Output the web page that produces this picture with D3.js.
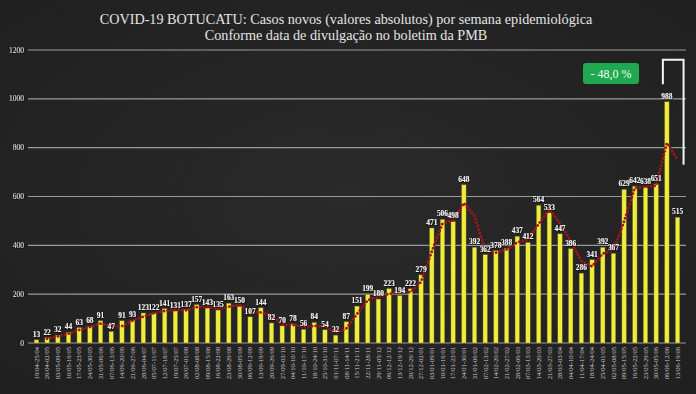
<!DOCTYPE html>
<html>
<head>
<meta charset="utf-8">
<script src="https://cdn.jsdelivr.net/npm/d3@7"></script>
<style>
  html, body { margin: 0; padding: 0; background: #262626; }
  svg { display: block; }
</style>
</head>
<body>
<div id="chart"></div>
<script>
// weekly periods (epidemiological weeks, 2020-2021)
let weeks = [
  "19/04-25/04", "26/04-02/05", "03/05-09/05", "10/05-16/05", "17/05-23/05",
  "24/05-30/05", "31/05-06/06", "07/06-13/06", "14/06-20/06", "21/06-27/06",
  "28/06-04/07", "05/07-11/07", "12/07-18/07", "19/07-25/07", "26/07-01/08",
  "02/08-08/08", "09/08-15/08", "16/08-22/08", "23/08-29/08", "30/08-05/09",
  "06/09-12/09", "13/09-19/09", "20/09-26/09", "27/09-03/10", "04/10-10/10",
  "11/10-17/10", "18/10-24/10", "25/10-31/10", "01/11-07/11", "08/11-14/11",
  "15/11-21/11", "22/11-28/11", "29/11-05/12", "06/12-12/12", "13/12-19/12",
  "20/12-26/12", "27/12-02/01", "03/01-09/01", "10/01-16/01", "17/01-23/01",
  "24/01-30/01", "31/01-06/02", "07/02-13/02", "14/02-20/02", "21/02-27/02",
  "28/02-06/03", "07/03-13/03", "14/03-20/03", "21/03-27/03", "28/03-03/04",
  "04/04-10/04", "11/04-17/04", "18/04-24/04", "25/04-01/05", "02/05-08/05",
  "09/05-15/05", "16/05-22/05", "23/05-29/05", "30/05-05/06", "06/06-12/06",
  "13/06-19/06"
]

// new cases per week
let cases = [
  13, 22, 32, 44, 63, 68, 91, 47, 91, 93,
  123, 122, 141, 131, 137, 157, 143, 135, 163, 150,
  107, 144, 82, 70, 78, 56, 84, 54, 32, 87,
  151, 199, 180, 223, 194, 222, 279, 471, 506, 498,
  648, 392, 362, 378, 388, 437, 412, 564, 533, 447,
  386, 286, 341, 392, 367, 629, 642, 638, 651, 988,
  515
]

let yTicks = [0, 200, 400, 600, 800, 1000, 1200]
let titleLines = [
  "COVID-19 BOTUCATU: Casos novos (valores absolutos) por semana epidemiológica",
  "Conforme data de divulgação no boletim da PMB"
]
let changeLabel = "- 48,0 %"

let W = 696, H = 394
let margin = { top: 50, right: 10, bottom: 51, left: 28 }

let svg = d3.select("#chart")
  .append("svg")
  .attr("width", W)
  .attr("height", H)

// background with a soft vignette
let defs = svg.append("defs")
let grad = defs.append("radialGradient").attr("id", "bg")
  .attr("cx", "50%").attr("cy", "50%").attr("r", "75%")
grad.append("stop").attr("offset", "0%").attr("stop-color", "#2a2a2b")
grad.append("stop").attr("offset", "100%").attr("stop-color", "#1f1f20")
svg.append("rect").attr("width", W).attr("height", H).attr("fill", "url(#bg)")

let shadow = defs.append("filter").attr("id", "shadow")
  .attr("x", "-20%").attr("y", "-20%").attr("width", "140%").attr("height", "140%")
shadow.append("feDropShadow")
  .attr("dx", 0.6).attr("dy", 0.6).attr("stdDeviation", 0.4)
  .attr("flood-color", "#000").attr("flood-opacity", 0.9)

// title
svg.append("g")
  .selectAll("text")
  .data(titleLines)
  .enter()
  .append("text")
  .attr("x", 346)
  .attr("y", function (d, i) { return 24 + i * 16 })
  .attr("text-anchor", "middle")
  .attr("font-family", "Liberation Serif, serif")
  .attr("font-size", 14.2)
  .attr("fill", "#e4e4e4")
  .text(function (d) { return d })

let x = d3.scaleBand()
  .domain(weeks)
  .range([margin.left, W - margin.right])
  .padding(0.58)

let y = d3.scaleLinear()
  .domain([0, 1200])
  .range([H - margin.bottom, margin.top])

// grid lines
svg.append("g")
  .selectAll("line")
  .data(yTicks)
  .enter()
  .append("line")
  .attr("x1", margin.left)
  .attr("x2", W - margin.right)
  .attr("y1", function (d) { return y(d) })
  .attr("y2", function (d) { return y(d) })
  .attr("stroke", "#9a9a9a")
  .attr("stroke-width", 1.2)

// y axis labels
svg.append("g")
  .selectAll("text")
  .data(yTicks)
  .enter()
  .append("text")
  .attr("x", 24)
  .attr("y", function (d) { return y(d) + 2.5 })
  .attr("text-anchor", "end")
  .attr("font-family", "Liberation Serif, serif")
  .attr("font-size", 7.5)
  .attr("fill", "#e0e0e0")
  .attr("filter", "url(#shadow)")
  .text(function (d) { return d })

// bars
svg.append("g")
  .selectAll("rect")
  .data(cases)
  .enter()
  .append("rect")
  .attr("x", function (d, i) { return x(weeks[i]) })
  .attr("y", function (d) { return y(d) })
  .attr("width", x.bandwidth())
  .attr("height", function (d) { return y(0) - y(d) })
  .attr("fill", "#f0ec3c")
  .attr("stroke", "#6b6a1c")
  .attr("stroke-width", 0.4)

// two-period moving average
let avg = []
for (let i = 1; i < cases.length; i++) {
  avg.push({ week: weeks[i], value: (cases[i - 1] + cases[i]) / 2 })
}
svg.append("path")
  .datum(avg)
  .attr("d", d3.line()
    .x(function (d) { return x(d.week) + x.bandwidth() / 2 })
    .y(function (d) { return y(d.value) })
  )
  .attr("fill", "none")
  .attr("stroke", "#a3141a")
  .attr("stroke-width", 2.8)
  .attr("stroke-linecap", "round")
  .attr("stroke-dasharray", "0.1,3.6")

// value labels
svg.append("g")
  .selectAll("text")
  .data(cases)
  .enter()
  .append("text")
  .attr("x", function (d, i) { return x(weeks[i]) + x.bandwidth() / 2 })
  .attr("y", function (d) { return y(d) - 3 })
  .attr("text-anchor", "middle")
  .attr("font-family", "Liberation Serif, serif")
  .attr("font-weight", "bold")
  .attr("font-size", 7.4)
  .attr("fill", "#f2f2f2")
  .attr("filter", "url(#shadow)")
  .text(function (d) { return d })

// x labels, rotated
svg.append("g")
  .selectAll("text")
  .data(weeks)
  .enter()
  .append("text")
  .attr("transform", function (d) {
    return "translate(" + (x(d) + x.bandwidth() / 2 + 2.3) + "," + (y(0) + 4) + ") rotate(-90)"
  })
  .attr("text-anchor", "end")
  .attr("font-family", "Liberation Serif, serif")
  .attr("font-size", 6.6)
  .attr("fill", "#cfcfcf")
  .text(function (d) { return d })

// change annotation: bracket + green badge
let lastTwo = weeks.slice(-2)
let bx1 = x(lastTwo[0]) + x.bandwidth() / 2 - 4
let bx2 = x(lastTwo[1]) + x.bandwidth() / 2 + 6
svg.append("path")
  .attr("d", "M" + bx1 + "," + y(1060) + "V" + y(1160) + "H" + bx2 + "V" + y(730))
  .attr("fill", "none")
  .attr("stroke", "#f4f4f4")
  .attr("stroke-width", 2)

svg.append("rect")
  .attr("x", 583)
  .attr("y", 63)
  .attr("width", 56)
  .attr("height", 21)
  .attr("rx", 3)
  .attr("fill", "#1fa84f")
svg.append("text")
  .attr("x", 611)
  .attr("y", 78)
  .attr("text-anchor", "middle")
  .attr("font-family", "Liberation Serif, serif")
  .attr("font-size", 12)
  .attr("fill", "#f4fff4")
  .text(changeLabel)
</script>
</body>
</html>
